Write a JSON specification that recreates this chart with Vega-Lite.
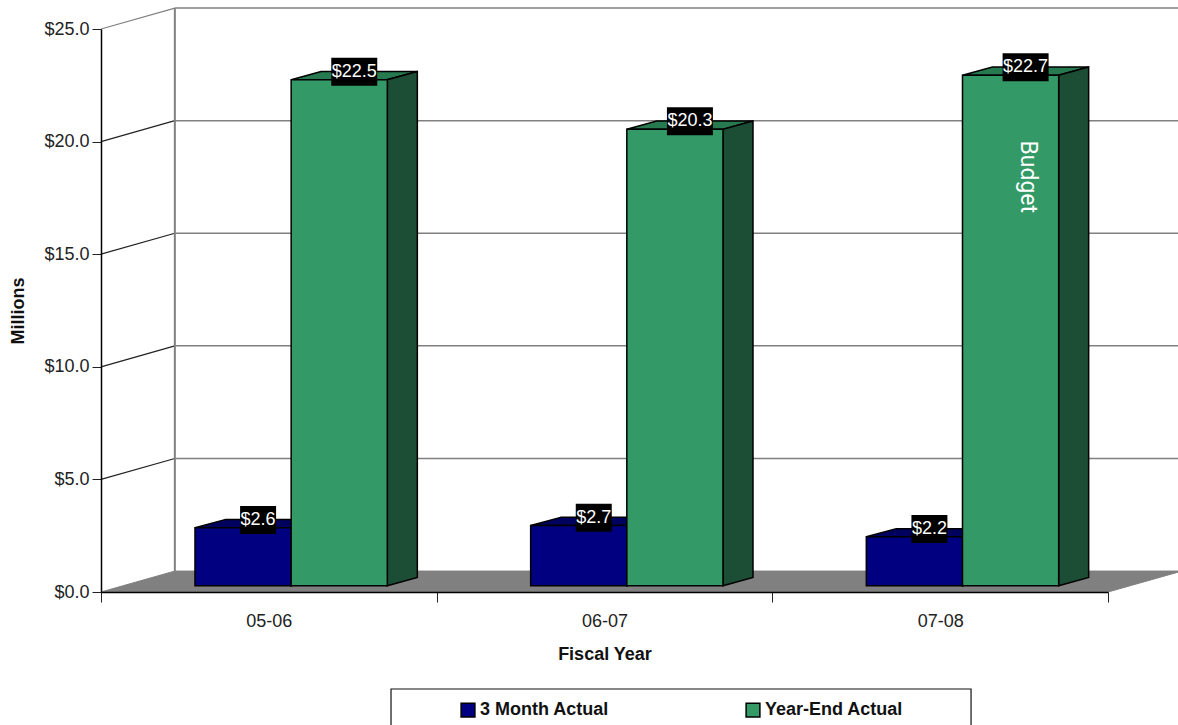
{
"$schema":"https://vega.github.io/schema/vega-lite/v6.json",
"width":1007,"height":563,
"autosize":{"type":"none"},
"padding":{"left":101,"top":29,"right":70,"bottom":133},
"background":"white",
"config":{"view":{"stroke":null},"font":"Liberation Sans"},
"datasets":{
"bars":[
{"year":"05-06","series":"3 Month Actual","value":2.6},
{"year":"05-06","series":"Year-End Actual","value":22.5},
{"year":"06-07","series":"3 Month Actual","value":2.7},
{"year":"06-07","series":"Year-End Actual","value":20.3},
{"year":"07-08","series":"3 Month Actual","value":2.2},
{"year":"07-08","series":"Year-End Actual","value":22.7}],
"grid":[{"tick":5},{"tick":10},{"tick":15},{"tick":20},{"tick":25}],
"notes":[{"note":"Budget","pos":2.762,"value":18.44}],
"one":[{"k":1}]
},
"layer":[
{"data":{"name":"bars"},
 "mark":{"type":"bar","opacity":0},
 "encoding":{
  "x":{"field":"year","type":"nominal","scale":{"type":"band","paddingInner":0,"paddingOuter":0},
   "axis":{"title":"Fiscal Year","tickBand":"extent","labelAngle":0,"tickSize":10,"tickColor":"#222","domainColor":"#000","domainWidth":1.5,"labelFont":"Liberation Sans","labelFontSize":18,"labelColor":"#222","labelPadding":10,"titleFont":"Liberation Sans","titleFontSize":18,"titleFontWeight":"bold","titleColor":"#111","titlePadding":15,"zindex":1}},
  "y":{"field":"value","type":"quantitative","scale":{"domain":[0,25],"nice":false},
   "axis":{"title":"Millions","values":[0,5,10,15,20,25],"format":"$.1f","tickSize":9,"tickColor":"#222","domainColor":"#000","domainWidth":1.5,"grid":false,"labelFont":"Liberation Sans","labelFontSize":18,"labelColor":"#222","labelPadding":3,"titleFont":"Liberation Sans","titleFontSize":18,"titleFontWeight":"bold","titleColor":"#111","titlePadding":16,"zindex":1}}
 }},
{"layer":[
 {"data":{"name":"grid"},
  "transform":[{"calculate":"datum.tick+0.93","as":"back"}],
  "mark":{"type":"rule","strokeWidth":1.5,"stroke":"#808080"},
  "encoding":{"x":{"datum":0.22,"type":"quantitative","scale":{"domain":[0,3],"nice":false,"zero":false},"axis":null},"x2":{"datum":3.3},
   "y":{"field":"back","type":"quantitative"},
   "y2":{"field":"back"}}},
 {"data":{"name":"grid"},
  "transform":[{"calculate":"datum.tick+0.93","as":"back"}],
  "mark":{"type":"rule","strokeWidth":1.2},
  "encoding":{"x":{"datum":0,"type":"quantitative"},"x2":{"datum":0.22},
   "y":{"field":"tick","type":"quantitative"},"y2":{"field":"back"},
   "color":{"condition":{"test":"datum.tick===25","value":"#808080"},"value":"#222222"}}},
 {"data":{"name":"one"},
  "mark":{"type":"rule","strokeWidth":2,"stroke":"#808080"},
  "encoding":{"x":{"datum":0.22,"type":"quantitative"},"y":{"datum":0.93,"type":"quantitative"},"y2":{"datum":25.93}}},
 {"data":{"name":"one"},
  "transform":[{"calculate":"[0,1]","as":"t"},{"flatten":["t"]},{"calculate":"datum.t*0.93","as":"fy"},{"calculate":"datum.t*0.22","as":"fx0"},{"calculate":"3+datum.t*0.22","as":"fx1"}],
  "mark":{"type":"area","orient":"horizontal","fill":"#808080","stroke":"#808080"},
  "encoding":{"y":{"field":"fy","type":"quantitative"},"x":{"field":"fx0","type":"quantitative"},"x2":{"field":"fx1"}}},
 {"data":{"name":"one"},
  "mark":{"type":"rect","fill":"white","stroke":"#111","strokeWidth":1.2},
  "encoding":{"x":{"datum":0.864,"type":"quantitative"},"x2":{"datum":2.592},"y":{"datum":-4.307,"type":"quantitative"},"y2":{"datum":-6.6}}},
 {"data":{"name":"bars"},
  "transform":[
   {"calculate":"indexof(['05-06','06-07','07-08'],datum.year)+0.28+(datum.series==='3 Month Actual'?0:0.2865)","as":"x0"},
   {"calculate":"datum.x0+0.2865","as":"x1"},
   {"calculate":"[0,1]","as":"t"},{"flatten":["t"]},
   {"calculate":"datum.value+0.25+datum.t*0.364","as":"ty"},
   {"calculate":"datum.x0+datum.t*0.0894","as":"tx0"},
   {"calculate":"datum.x1+datum.t*0.0894","as":"tx1"}],
  "mark":{"type":"area","orient":"horizontal","stroke":"#000","strokeWidth":1.5},
  "encoding":{"y":{"field":"ty","type":"quantitative"},"x":{"field":"tx0","type":"quantitative"},"x2":{"field":"tx1"},
   "detail":[{"field":"year"},{"field":"series"}],
   "fill":{"condition":{"test":"datum.series==='3 Month Actual'","value":"#00005e"},"value":"#277a4f"}}},
 {"data":{"name":"bars"},
  "transform":[
   {"calculate":"indexof(['05-06','06-07','07-08'],datum.year)+0.28+(datum.series==='3 Month Actual'?0:0.2865)+0.2865","as":"x1"},
   {"calculate":"[0,1]","as":"t"},{"flatten":["t"]},
   {"calculate":"datum.x1+datum.t*0.0894","as":"sx"},
   {"calculate":"0.28+datum.t*0.364","as":"sy0"},
   {"calculate":"datum.value+0.25+datum.t*0.364","as":"sy1"}],
  "mark":{"type":"area","orient":"vertical","stroke":"#000","strokeWidth":1.5},
  "encoding":{"x":{"field":"sx","type":"quantitative"},"y":{"field":"sy0","type":"quantitative"},"y2":{"field":"sy1"},
   "detail":[{"field":"year"},{"field":"series"}],
   "fill":{"condition":{"test":"datum.series==='3 Month Actual'","value":"#00004a"},"value":"#1c4e35"}}},
 {"data":{"name":"bars"},
  "transform":[
   {"calculate":"indexof(['05-06','06-07','07-08'],datum.year)+0.28+(datum.series==='3 Month Actual'?0:0.2865)","as":"x0"},
   {"calculate":"datum.x0+0.2865","as":"x1"},
   {"calculate":"datum.value+0.25","as":"y1"},
   {"calculate":"0.28","as":"y0"}],
  "mark":{"type":"rect","stroke":"#000","strokeWidth":1.5},
  "encoding":{"x":{"field":"x0","type":"quantitative"},"x2":{"field":"x1"},"y":{"field":"y0","type":"quantitative"},"y2":{"field":"y1"},
   "color":{"field":"series","type":"nominal","scale":{"domain":["3 Month Actual","Year-End Actual"],"range":["#000080","#339966"]},
    "legend":{"title":null,"orient":"none","legendX":358,"legendY":672,"direction":"horizontal","columns":2,"columnPadding":134,"symbolType":"square","symbolSize":190,"symbolStrokeColor":"#000","symbolStrokeWidth":1.5,"symbolOpacity":1,"labelFont":"Liberation Sans","labelFontSize":18,"labelFontWeight":"bold","labelColor":"#111","labelOffset":3,"padding":0,"labelLimit":300}}}},
 {"data":{"name":"bars"},
  "transform":[
   {"calculate":"indexof(['05-06','06-07','07-08'],datum.year)+0.28+(datum.series==='3 Month Actual'?0:0.2865)+0.1433+0.0447","as":"cx"},
   {"calculate":"datum.value>=10?0.0685:0.0536","as":"hw"},
   {"calculate":"datum.cx-datum.hw","as":"bx0"},{"calculate":"datum.cx+datum.hw","as":"bx1"},
   {"calculate":"datum.value+0.6-0.62","as":"by0"},{"calculate":"datum.value+0.6+0.62","as":"by1"}],
  "mark":{"type":"rect","fill":"#000"},
  "encoding":{"x":{"field":"bx0","type":"quantitative"},"x2":{"field":"bx1"},"y":{"field":"by0","type":"quantitative"},"y2":{"field":"by1"}}},
 {"data":{"name":"bars"},
  "transform":[
   {"calculate":"indexof(['05-06','06-07','07-08'],datum.year)+0.28+(datum.series==='3 Month Actual'?0:0.2865)+0.1433+0.0447","as":"cx"},
   {"calculate":"datum.value+0.6","as":"cy"},
   {"calculate":"'$'+format(datum.value,'.1f')","as":"lab"}],
  "mark":{"type":"text","color":"white","font":"Liberation Sans","fontSize":18,"align":"center","baseline":"middle"},
  "encoding":{"x":{"field":"cx","type":"quantitative"},"y":{"field":"cy","type":"quantitative"},"text":{"field":"lab"}}},
 {"data":{"name":"notes"},
  "mark":{"type":"text","color":"white","font":"Roboto","fontSize":23,"angle":90,"align":"center","baseline":"middle"},
  "encoding":{"x":{"field":"pos","type":"quantitative"},"y":{"field":"value","type":"quantitative"},"text":{"field":"note"}}}
 ]}
],
"resolve":{"scale":{"x":"independent"}}
}
